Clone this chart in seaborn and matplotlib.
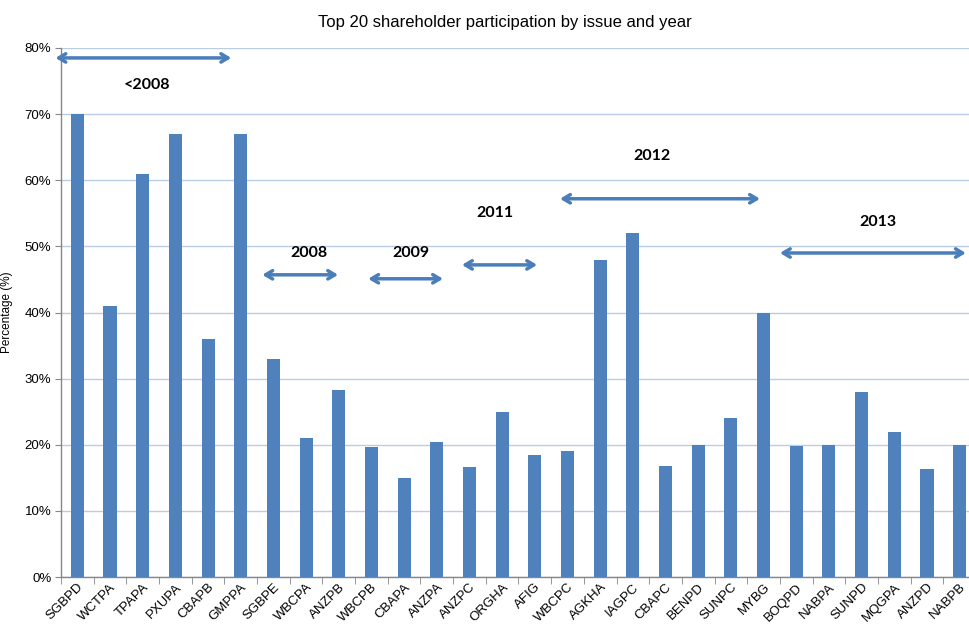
import matplotlib
matplotlib.use("Agg")
import matplotlib.pyplot as plt
import seaborn as sns
import pandas as pd
import numpy as np

issues = ["SGBPD", "WCTPA", "TPAPA", "PXUPA", "CBAPB", "GMPPA", "SGBPE", "WBCPA",
          "ANZPB", "WBCPB", "CBAPA", "ANZPA", "ANZPC", "ORGHA", "AFIG", "WBCPC",
          "AGKHA", "IAGPC", "CBAPC", "BENPD", "SUNPC", "MYBG", "BOQPD", "NABPA",
          "SUNPD", "MQGPA", "ANZPD", "NABPB"]
participation = [70, 41, 61, 67, 36, 67, 33, 21,
                 28.3, 19.7, 15, 20.4, 16.6, 25, 18.4, 19,
                 48, 52, 16.8, 20, 24, 40, 19.8, 20,
                 28, 22, 16.3, 20]

# year groups: label, arrow span along the issue axis, arrow height, label position
year_labels = ["<2008", "2008", "2009", "2011", "2012", "2013"]
year_start = [-0.67, 5.66, 8.9, 11.77, 14.77, 21.5]
year_end = [4.71, 7.98, 11.19, 14.07, 20.89, 27.19]
arrow_y = [78.5, 45.7, 45.1, 47.2, 57.2, 49.0]
label_x = [2.14, 7.1, 10.2, 12.78, 17.6, 24.5]
label_y = [74.4, 49.0, 49.0, 55.1, 63.7, 53.7]

df = pd.DataFrame({"issue": issues, "pct": participation})

sns.set_style("white")
plt.rcParams["font.family"] = ["Liberation Sans", "DejaVu Sans"]
plt.rcParams["text.color"] = "black"
plt.rcParams["xtick.color"] = "black"
plt.rcParams["ytick.color"] = "black"
plt.rcParams["axes.labelcolor"] = "black"

fig = plt.figure(figsize=(9.7, 6.26), dpi=100)
ax = fig.add_axes([61 / 970, 1 - 577 / 626, (976 - 61) / 970, (577 - 48) / 626])

sns.barplot(data=df, x="issue", y="pct", color="#4f81bd", saturation=1,
            width=0.4, linewidth=0, ax=ax, zorder=3)

ax.set_xlim(-0.5, len(issues) - 0.5)
ax.set_ylim(0, 80)
ax.set_yticks(np.arange(0, 81, 10))
ax.set_yticklabels([f"{v}%" for v in range(0, 81, 10)], fontsize=9.5)
ax.yaxis.grid(True, color="#b9cde5", linewidth=1, zorder=0)
ax.set_axisbelow(True)

ax.set_xticks(np.arange(len(issues)))
ax.set_xticklabels(issues, rotation=45, ha="right", rotation_mode="anchor",
                   fontsize=9.5)
ax.tick_params(axis="x", length=0, pad=3)
ax.set_xticks(np.arange(-0.5, len(issues), 1), minor=True)
ax.tick_params(axis="x", which="minor", length=5, color="#868686", direction="out")
ax.tick_params(axis="y", length=4, color="#868686", direction="out", pad=3)
ax.xaxis.set_ticks_position("bottom")
ax.yaxis.set_ticks_position("left")

for side in ["top", "right"]:
    ax.spines[side].set_visible(False)
for side in ["left", "bottom"]:
    ax.spines[side].set_color("#868686")
    ax.spines[side].set_linewidth(1)

ax.set_xlabel("")
ax.set_ylabel("Percentage (%)", fontsize=8.5, labelpad=8)

for lab, x0, x1, ya, lx, ly in zip(year_labels, year_start, year_end, arrow_y,
                                   label_x, label_y):
    ax.annotate("", xy=(x1, ya), xytext=(x0, ya),
                arrowprops=dict(arrowstyle="<->,head_length=0.5,head_width=0.3",
                                color="#4a7ebb", lw=2.5, shrinkA=0, shrinkB=0),
                annotation_clip=False, zorder=5)
    ax.text(lx, ly, lab, ha="center", va="center", fontsize=11.5,
            fontweight="bold", color="black", family=["Lato", "DejaVu Sans"],
            zorder=5)

fig.text(0.52, 1 - 22 / 626, "Top 20 shareholder participation by issue and year",
         ha="center", va="center", fontsize=12)

fig.savefig("out.png", dpi=100)
